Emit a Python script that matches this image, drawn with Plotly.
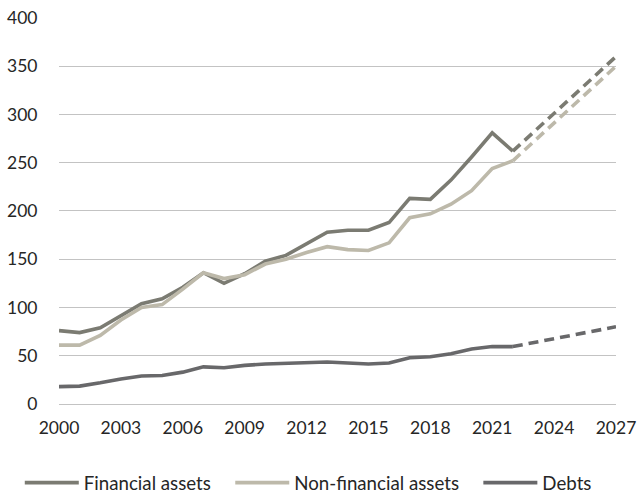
import plotly.graph_objects as go

years = list(range(2000, 2023))
financial = [76, 74, 79, 92, 104, 109, 121, 136, 125, 135, 148, 154, 166, 178, 180, 180, 188, 213, 212, 232, 256, 281, 262]
non_financial = [61, 61, 71, 87, 100, 103, 119, 136, 130, 134, 145, 150, 157, 163, 160, 159, 167, 193, 197, 207, 221, 244, 252]
debts = [18, 18.5, 22, 26, 29, 29.5, 33, 38.5, 37.5, 40, 41.5, 42, 43, 43.5, 42.5, 41.5, 42.5, 48, 49, 52, 57, 59.5, 59.5]

proj_years = [2022, 2027]
financial_proj = [262, 360]
non_financial_proj = [252, 350]
debts_proj = [59.5, 80]

x_ticks = list(range(2000, 2028, 3))
y_ticks = list(range(0, 401, 50))
series_names = ["Financial assets", "Non-financial assets", "Debts"]

c_fin = "#7b7b72"
c_nonfin = "#bdb9aa"
c_debt = "#68686a"
W = 3.6
pad = "\u00a0" * 3  # legend spacing

fig = go.Figure()
fig.add_trace(go.Scatter(x=years, y=financial, mode="lines", name=series_names[0] + pad,
                         line=dict(color=c_fin, width=W)))
fig.add_trace(go.Scatter(x=years, y=non_financial, mode="lines", name=series_names[1] + pad,
                         line=dict(color=c_nonfin, width=W)))
fig.add_trace(go.Scatter(x=years, y=debts, mode="lines", name=series_names[2],
                         line=dict(color=c_debt, width=W)))
for yy, c in [(financial_proj, c_fin), (non_financial_proj, c_nonfin), (debts_proj, c_debt)]:
    fig.add_trace(go.Scatter(x=proj_years, y=yy, mode="lines", showlegend=False,
                             line=dict(color=c, width=W, dash="10px,6px")))

fig.update_layout(
    width=638, height=493,
    margin=dict(l=59, r=22, t=17, b=89, autoexpand=False),
    paper_bgcolor="white", plot_bgcolor="white",
    font=dict(family="Lato, Open Sans, sans-serif", size=17.5, color="#262626"),
    showlegend=True,
    legend=dict(orientation="h", x=-0.0704, xanchor="left", y=-0.204, yanchor="middle",
                font=dict(size=18.7), itemwidth=54, traceorder="normal"),
)
fig.update_xaxes(range=[2000, 2027], tickvals=x_ticks, ticktext=[str(v) for v in x_ticks],
                 showgrid=False, zeroline=False, showline=False, automargin=False,
                 ticks="outside", ticklen=8, tickcolor="rgba(0,0,0,0)")
fig.update_yaxes(range=[0, 401], tickvals=y_ticks, showgrid=True, gridcolor="#c3c3c3", gridwidth=1,
                 zeroline=True, zerolinecolor="#c3c3c3", zerolinewidth=1, showline=False,
                 automargin=False,
                 ticks="outside", ticklen=17, tickcolor="rgba(0,0,0,0)")

fig.write_html("out.html", config={"displayModeBar": False},
               post_script="document.body.style.margin='0';")
